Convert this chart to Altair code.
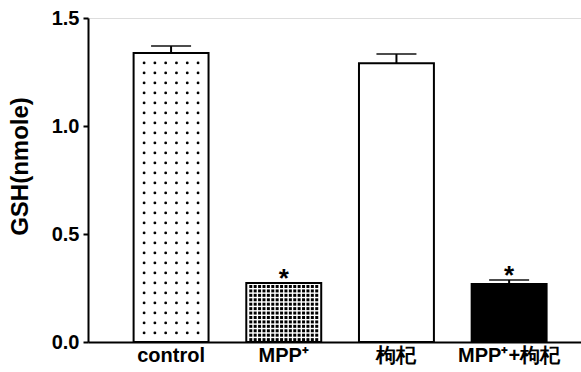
import altair as alt
import numpy as np
import pandas as pd

# Group means, SEM and significance marks
groups = ["control", "MPP⁺", "枸杞", "MPP⁺+枸杞"]
gsh = [1.338, 0.273, 1.290, 0.268]
sem = [0.032, 0.0, 0.043, 0.019]
marks = ["", "*", "", "*"]
fills = ["white", "white", "white", "black"]

df = pd.DataFrame({
    "group": groups,
    "gsh": gsh,
    "upper": [g + s for g, s in zip(gsh, sem)],
    "sem": sem,
    "mark": marks,
    "fill": fills,
})


def texture(name, cols, step, top_gap):
    """Grid of dot positions filling one bar (column fraction, y value)."""
    top = gsh[groups.index(name)] - top_gap
    rows = [
        {"group": name, "fx": float(fx), "y": float(yy)}
        for fx in cols
        for yy in np.arange(top, 0.008, -step)
    ]
    return pd.DataFrame(rows)


sparse = texture("control", np.linspace(0.14, 0.86, 6), 0.0463, 0.046)
dense = texture("MPP⁺", np.linspace(0.06, 0.94, 16), 0.0205, 0.016)

x_enc = alt.X(
    "group:N",
    sort=groups,
    scale=alt.Scale(paddingInner=0.335, paddingOuter=0.355, align=0.57),
    axis=alt.Axis(
        title=None, labelAngle=0, ticks=False, domainWidth=2, domainColor="black",
        labelFont="Liberation Sans", labelFontSize=20, labelFontWeight="bold",
        labelColor="black", labelPadding=3,
    ),
)
y_scale = alt.Scale(domain=[0, 1.5], nice=False)
y_axis = alt.Axis(
    values=[0, 0.5, 1.0, 1.5], format=".1f", title="GSH(nmole)",
    titleFont="Liberation Sans", titleFontSize=24, titleFontWeight="bold",
    titleColor="black", titleX=-56, titleY=148,
    labelFont="Liberation Sans", labelFontSize=20, labelFontWeight="bold",
    labelColor="black", labelPadding=4, tickSize=5, tickWidth=2, tickColor="black",
    domainWidth=2, domainColor="black", grid=False,
)

base = alt.Chart(df).encode(x=x_enc)

bars = base.mark_bar(stroke="black", strokeWidth=2).encode(
    y=alt.Y("gsh:Q", scale=y_scale, axis=y_axis),
    fill=alt.Fill("fill:N", scale=None),
)


def dot_layer(data, mark):
    return alt.Chart(data).mark_point(**mark).encode(
        x=alt.X("group:N", sort=groups),
        xOffset=alt.XOffset("fx:Q", scale=alt.Scale(domain=[0, 1])),
        y=alt.Y("y:Q"),
    )


sparse_dots = dot_layer(sparse, dict(shape="circle", filled=True, color="black", size=8, opacity=1))
dense_dots = dot_layer(dense, dict(shape="square", filled=True, color="black", size=9, opacity=1))

err = base.transform_filter("datum.sem > 0").mark_rule(color="black", strokeWidth=2).encode(
    y="gsh:Q", y2="upper:Q",
)
caps = base.transform_filter("datum.sem > 0").mark_tick(
    color="black", orient="horizontal", size=40, thickness=2
).encode(y="upper:Q")

stars = base.mark_text(
    font="Liberation Sans", fontSize=26, fontWeight="bold", color="black",
    baseline="alphabetic", dy=4,
).encode(y="upper:Q", text="mark:N")

chart = alt.layer(bars, sparse_dots, dense_dots, err, caps, stars).resolve_scale(
    xOffset="independent"
).properties(
    width=493, height=324,
    autosize=alt.AutoSizeParams(type="none"),
    padding={"left": 88, "top": 18, "right": 0, "bottom": 30},
).configure_view(stroke=None).configure(background="white")

chart.save("out.html", embed_options={"renderer": "svg", "actions": False})
